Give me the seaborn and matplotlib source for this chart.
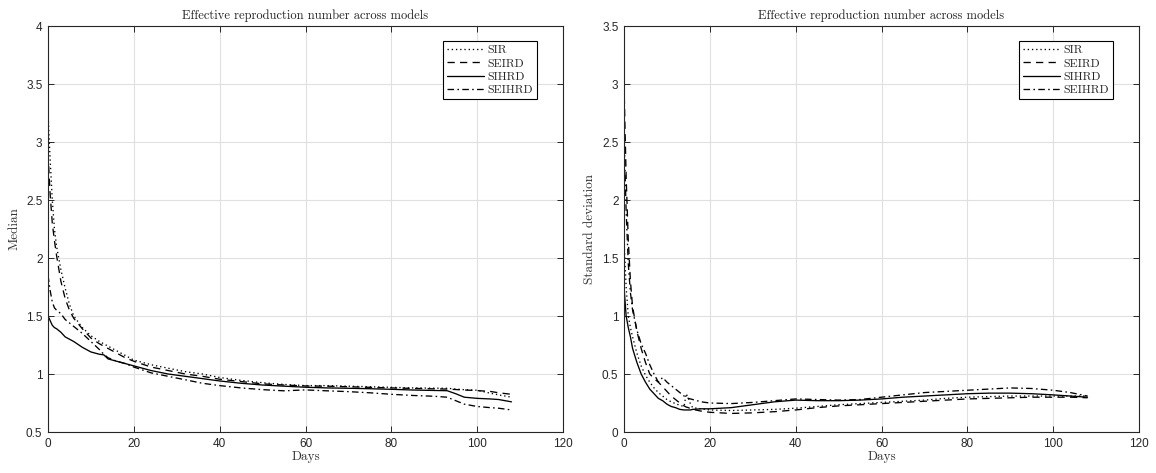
import matplotlib
matplotlib.use("Agg")
import matplotlib.pyplot as plt
from matplotlib.ticker import FuncFormatter, MultipleLocator
import seaborn as sns

# ---------------- data ----------------
models = ["SIR", "SEIRD", "SIHRD", "SEIHRD"]

days_median = [0, 0.5, 1, 1.5, 2, 3, 4, 5, 6, 8, 10, 12, 13, 14, 16, 18, 20, 24, 28, 32,
               36, 40, 45, 50, 55, 60, 65, 70, 75, 80, 85, 90, 93, 95, 97, 100, 103, 105, 108]
sir_median = [3.25, 2.85, 2.5, 2.25, 2.1, 1.9, 1.74, 1.6, 1.5, 1.4, 1.33, 1.28, 1.26, 1.24, 1.2,
              1.16, 1.12, 1.08, 1.05, 1.02, 1.0, 0.97, 0.945, 0.925, 0.91, 0.9, 0.9, 0.895, 0.89,
              0.885, 0.88, 0.878, 0.877, 0.87, 0.865, 0.86, 0.835, 0.82, 0.8]
seird_median = [2.9, 2.55, 2.3, 2.15, 2.02, 1.8, 1.65, 1.55, 1.48, 1.39, 1.31, 1.26, 1.24, 1.22,
                1.18, 1.14, 1.11, 1.06, 1.03, 1.0, 0.98, 0.955, 0.935, 0.915, 0.905, 0.897, 0.895,
                0.89, 0.885, 0.88, 0.876, 0.872, 0.87, 0.866, 0.862, 0.857, 0.85, 0.838, 0.825]
sihrd_median = [1.5, 1.46, 1.42, 1.4, 1.39, 1.36, 1.32, 1.3, 1.28, 1.23, 1.19, 1.17, 1.165, 1.13,
                1.11, 1.09, 1.07, 1.03, 1.0, 0.98, 0.96, 0.94, 0.92, 0.905, 0.895, 0.886, 0.88,
                0.877, 0.873, 0.868, 0.862, 0.858, 0.856, 0.83, 0.8, 0.79, 0.785, 0.78, 0.76]
seihrd_median = [1.85, 1.72, 1.62, 1.57, 1.55, 1.52, 1.47, 1.44, 1.41, 1.35, 1.28, 1.21, 1.17,
                 1.14, 1.11, 1.09, 1.06, 1.01, 0.98, 0.95, 0.92, 0.9, 0.88, 0.865, 0.855, 0.863,
                 0.855, 0.848, 0.838, 0.825, 0.815, 0.808, 0.8, 0.77, 0.74, 0.72, 0.71, 0.705, 0.69]

days_std = [0, 0.5, 1, 1.5, 2, 3, 4, 5, 6, 7, 8, 9, 10, 11, 12, 13, 14, 14.5, 15, 15.5, 16, 18,
            20, 25, 30, 35, 40, 45, 50, 55, 60, 65, 70, 75, 80, 85, 90, 95, 100, 104, 108]
sir_std = [1.65, 1.25, 1.0, 0.9, 0.82, 0.68, 0.57, 0.49, 0.43, 0.38, 0.34, 0.31, 0.28, 0.26, 0.245,
           0.23, 0.22, 0.33, 0.29, 0.24, 0.21, 0.2, 0.19, 0.185, 0.19, 0.195, 0.205, 0.22, 0.235,
           0.245, 0.255, 0.265, 0.275, 0.29, 0.3, 0.305, 0.31, 0.31, 0.31, 0.31, 0.31]
seird_std = [3.0, 2.2, 1.65, 1.3, 1.08, 0.87, 0.72, 0.6, 0.5, 0.46, 0.43, 0.39, 0.35, 0.31, 0.28,
             0.25, 0.225, 0.215, 0.21, 0.2, 0.195, 0.18, 0.17, 0.16, 0.165, 0.175, 0.19, 0.21,
             0.225, 0.235, 0.245, 0.255, 0.265, 0.275, 0.285, 0.29, 0.295, 0.3, 0.3, 0.3, 0.295]
sihrd_std = [1.25, 1.0, 0.9, 0.82, 0.72, 0.6, 0.5, 0.43, 0.37, 0.33, 0.29, 0.27, 0.24, 0.22, 0.21,
             0.195, 0.19, 0.19, 0.19, 0.19, 0.195, 0.2, 0.2, 0.21, 0.235, 0.26, 0.275, 0.27, 0.27,
             0.275, 0.285, 0.3, 0.31, 0.32, 0.33, 0.335, 0.335, 0.33, 0.32, 0.31, 0.3]
seihrd_std = [2.6, 1.9, 1.45, 1.2, 1.05, 0.88, 0.76, 0.68, 0.58, 0.5, 0.43, 0.47, 0.43, 0.4, 0.37,
              0.34, 0.31, 0.3, 0.29, 0.285, 0.28, 0.26, 0.25, 0.245, 0.255, 0.27, 0.285, 0.28,
              0.275, 0.28, 0.3, 0.32, 0.34, 0.35, 0.36, 0.37, 0.38, 0.375, 0.36, 0.34, 0.31]

title_text = "Effective reproduction number across models"
xlabel_text = "Days"
ylabel_left = "Median"
ylabel_right = "Standard deviation"

# ---------------- style ----------------
sns.set_theme(style="whitegrid")
plt.rcParams['font.family'] = ['Liberation Sans', 'DejaVu Sans']
SERIF = 'cmr10'
AXC = '#262626'

line_styles = {
    "SIR": (0, (1, 2.2)),
    "SEIRD": (0, (5.5, 4)),
    "SIHRD": "-",
    "SEIHRD": (0, (5, 2.5, 1.2, 2.5)),
}

fig = plt.figure(figsize=(11.56, 4.73), dpi=100)
W, H = 1156, 473
ax1 = fig.add_axes([48 / W, 1 - 432 / H, (563 - 48) / W, (432 - 26) / H])
ax2 = fig.add_axes([624 / W, 1 - 432 / H, (1139 - 624) / W, (432 - 26) / H])

panels = [
    (ax1, days_median, [sir_median, seird_median, sihrd_median, seihrd_median], (0.5, 4), ylabel_left),
    (ax2, days_std, [sir_std, seird_std, sihrd_std, seihrd_std], (0, 3.5), ylabel_right),
]

for ax, days, series, ylim, ylab in panels:
    for name, vals in zip(models, series):
        sns.lineplot(x=days, y=vals, ax=ax, color='black', lw=0.95,
                     linestyle=line_styles[name], label=name, sort=False)
    ax.set_xlim(0, 120)
    ax.set_ylim(*ylim)
    ax.xaxis.set_major_locator(MultipleLocator(20))
    ax.yaxis.set_major_locator(MultipleLocator(0.5))
    ax.yaxis.set_major_formatter(FuncFormatter(lambda v, p: f"{v:g}"))
    ax.set_facecolor('white')
    ax.grid(True, color='#e0e0e0', lw=0.8)
    for sp in ax.spines.values():
        sp.set_visible(True)
        sp.set_color(AXC)
        sp.set_linewidth(0.8)
    ax.tick_params(direction='in', length=4, width=0.7, color=AXC, labelcolor=AXC,
                   labelsize=8.5, top=True, right=True, bottom=True, left=True, pad=4)
    ax.set_title(title_text, fontfamily=SERIF, fontsize=9, color='#222222', pad=5)
    ax.set_xlabel(xlabel_text, fontfamily=SERIF, fontsize=9.5, color='#333333', labelpad=1)
    ax.set_ylabel(ylab, fontfamily=SERIF, fontsize=9.5, color='#333333', labelpad=4)
    leg = ax.legend(loc='upper right', prop={'family': SERIF, 'size': 8.5}, frameon=True,
                    fancybox=False, framealpha=1, edgecolor='black', handlelength=3.1,
                    handletextpad=0.3, borderpad=0.35, labelspacing=0.25,
                    bbox_to_anchor=(1 - 20 / 515, 1 - 9 / 406))
    leg.get_frame().set_linewidth(0.8)

fig.savefig("out.png", dpi=100)
